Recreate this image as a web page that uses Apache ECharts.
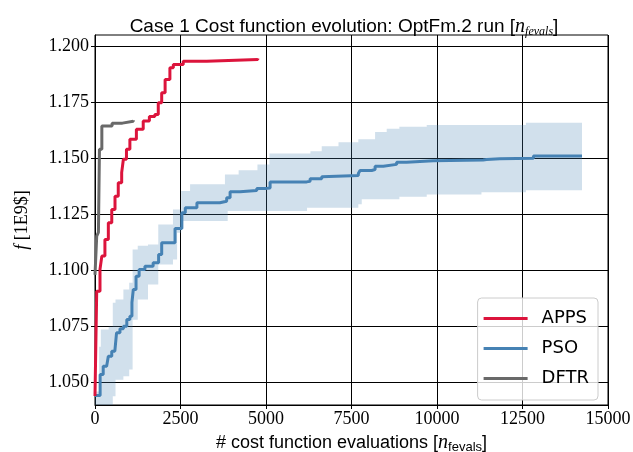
<!DOCTYPE html>
<html>
<head>
<meta charset="utf-8">
<script src="https://cdn.jsdelivr.net/npm/echarts@6/dist/echarts.min.js"></script>
<style>
  html, body { margin: 0; padding: 0; background: #fff; }
  #chart { width: 633px; height: 452px; }
</style>
</head>
<body>
<div id="chart"></div>
<script>
// Best cost found so far vs. number of cost function evaluations
const appsEvals = [0, 50, 146, 200, 290, 390, 490, 585, 680, 780, 830, 920, 1020, 1210, 1410, 1590, 1750, 1850, 1950, 2050, 2190, 2290, 2580, 3265, 4760];
const appsCost  = [1.044, 1.0907, 1.1005, 1.1064, 1.1138, 1.1213, 1.1272, 1.1331, 1.1391, 1.1436, 1.1496, 1.154, 1.1585, 1.163, 1.1667, 1.1686, 1.1696, 1.1748, 1.1792, 1.1852, 1.1904, 1.1918, 1.1933, 1.1941, 1.1945];

const psoEvals = [0, 150, 240, 340, 390, 490, 580, 630, 730, 830, 930, 1020, 1080, 1120, 1200, 1290, 1460, 1700, 1860, 1950, 2340, 2540, 2640, 2980, 3650, 3850, 3950, 4240, 4730, 5020, 5120, 6190, 6290, 6630, 6680, 7700, 7750, 8090, 8190, 8430, 8820, 9110, 9890, 11350, 11450, 11840, 12820, 14240];
const psoCost  = [1.0442, 1.0536, 1.0573, 1.058, 1.0617, 1.064, 1.0647, 1.0722, 1.074, 1.0751, 1.0781, 1.0796, 1.0857, 1.0915, 1.0974, 1.1004, 1.1019, 1.1034, 1.1071, 1.1123, 1.1187, 1.1257, 1.128, 1.1302, 1.1309, 1.1324, 1.1351, 1.1357, 1.1366, 1.1368, 1.1395, 1.1398, 1.1409, 1.1418, 1.1423, 1.1432, 1.1446, 1.145, 1.1465, 1.1473, 1.1483, 1.1489, 1.1493, 1.1495, 1.1498, 1.15, 1.151, 1.1511];

// PSO spread across runs (lower / upper envelope)
const psoBandEvals = [0, 120, 170, 400, 520, 600, 830, 1000, 1100, 1250, 1550, 1850, 2280, 2400, 2520, 2780, 3800, 3880, 4200, 4750, 5100, 6200, 6300, 6630, 7120, 7700, 7800, 8190, 8530, 8900, 9700, 11300, 12600, 14240];
const psoBandLow  = [1.036, 1.036, 1.038, 1.040, 1.0439, 1.0513, 1.0528, 1.0558, 1.078, 1.087, 1.0937, 1.1027, 1.1049, 1.1168, 1.122, 1.122, 1.122, 1.1265, 1.1265, 1.1265, 1.1265, 1.128, 1.128, 1.128, 1.128, 1.1295, 1.1317, 1.1317, 1.1317, 1.1329, 1.1339, 1.1349, 1.1358, 1.1364];
const psoBandHigh = [1.046, 1.066, 1.0737, 1.075, 1.0856, 1.087, 1.0915, 1.0945, 1.1093, 1.111, 1.1116, 1.1205, 1.1272, 1.1272, 1.1354, 1.1384, 1.1428, 1.1428, 1.1447, 1.1473, 1.1522, 1.1522, 1.1532, 1.1554, 1.1572, 1.1585, 1.1585, 1.1617, 1.1632, 1.1641, 1.1649, 1.1649, 1.1659, 1.1662];

const dftrEvals = [0, 50, 100, 130, 200, 500, 800, 1120];
const dftrCost  = [1.098, 1.1153, 1.117, 1.154, 1.1644, 1.1657, 1.1665, 1.167];

const yTicks = [1.050, 1.075, 1.100, 1.125, 1.150, 1.175, 1.200];

const zip = (xs, ys) => xs.map((x, i) => [x, ys[i]]);

const serifFont = 'Liberation Serif';
const sansFont = 'Liberation Sans';

// Step-shaped envelope polygon: upper edge left-to-right, lower edge back.
function renderBand(params, api) {
  if (params.dataIndex !== 0) return null;
  const n = psoBandEvals.length;
  const upper = [], lower = [];
  for (let i = 0; i < n; i++) {
    const x0 = psoBandEvals[i];
    const x1 = i + 1 < n ? psoBandEvals[i + 1] : psoBandEvals[i];
    upper.push(api.coord([x0, psoBandHigh[i]]), api.coord([x1, psoBandHigh[i]]));
    lower.push(api.coord([x0, psoBandLow[i]]), api.coord([x1, psoBandLow[i]]));
  }
  const points = upper.concat(lower.reverse());
  return {
    type: 'polygon',
    shape: { points },
    style: { fill: 'rgba(70,130,180,0.25)', stroke: null },
    silent: true
  };
}

const chart = echarts.init(document.getElementById('chart'), null, { renderer: 'canvas' });

const richTitle = {
  a: { fontFamily: sansFont, fontSize: 19, fontWeight: 'normal', color: '#000', lineHeight: 22 },
  n: { fontFamily: serifFont, fontStyle: 'italic', fontWeight: 'normal', fontSize: 20, color: '#000', lineHeight: 22 },
  s: { fontFamily: serifFont, fontStyle: 'italic', fontWeight: 'normal', fontSize: 12, color: '#000', lineHeight: 22, verticalAlign: 'bottom', padding: [6, 0, 0, 0] }
};

chart.setOption({
  animation: false,
  backgroundColor: '#fff',
  title: {
    text: '{a|Case 1 Cost function evolution: OptFm.2 run [}{n|n}{s|fevals}{a|]}',
    left: 339, top: 11, textAlign: 'center',
    textStyle: { fontWeight: 'normal', rich: richTitle }
  },
  grid: {
    left: 95, right: 25, top: 35, bottom: 47,
    show: true, borderColor: '#000', borderWidth: 1,
    containLabel: false, outerBoundsMode: 'none'
  },
  legend: {
    orient: 'vertical',
    right: 35, bottom: 52,
    data: ['APPS', 'PSO', 'DFTR'],
    icon: 'rect',
    itemWidth: 44, itemHeight: 3, itemGap: 9,
    padding: [10, 9, 11, 6],
    backgroundColor: 'rgba(255,255,255,0.8)',
    borderColor: '#cccccc', borderWidth: 1, borderRadius: 4,
    textStyle: { fontFamily: 'DejaVu Sans', fontSize: 18, color: '#000', lineHeight: 21, padding: [0, 0, 0, 9] }
  },
  xAxis: {
    type: 'value', min: 0, max: 15000, interval: 2500,
    name: '{a|# cost function evaluations [}{n|n}{s|fevals}{a|]}',
    nameLocation: 'middle', nameGap: 26,
    nameTextStyle: {
      rich: {
        a: { fontFamily: sansFont, fontSize: 18, color: '#000', lineHeight: 22 },
        n: { fontFamily: serifFont, fontStyle: 'italic', fontSize: 20, color: '#000', lineHeight: 22 },
        s: { fontFamily: sansFont, fontSize: 13, color: '#000', lineHeight: 22, verticalAlign: 'bottom', padding: [6, 0, 0, 0] }
      }
    },
    axisLine: { show: true, lineStyle: { color: '#000', width: 1 } },
    axisTick: { show: true, inside: false, length: 4, lineStyle: { color: '#000' } },
    axisLabel: { fontFamily: serifFont, fontSize: 18, color: '#000', margin: 5, formatter: v => String(v) },
    splitLine: { show: true, lineStyle: { color: '#000', width: 1 } }
  },
  yAxis: {
    type: 'value', min: 1.040, max: 1.205,
    name: '{i|f} [1E9$]',
    nameLocation: 'middle', nameGap: 64, nameRotate: 90,
    nameTextStyle: {
      rich: {
        i: { fontFamily: serifFont, fontStyle: 'italic', fontSize: 18, color: '#000' }
      },
      fontFamily: serifFont, fontSize: 18, color: '#000'
    },
    axisLine: { show: true, lineStyle: { color: '#000', width: 1 } },
    axisTick: { show: true, inside: false, length: 4, lineStyle: { color: '#000' }, customValues: yTicks },
    axisLabel: { fontFamily: serifFont, fontSize: 18, color: '#000', margin: 6, customValues: yTicks,
      formatter: v => v.toFixed(3) },
    splitLine: { show: true, lineStyle: { color: '#000', width: 1 } }
  },
  series: [
    {
      name: 'PSO spread', type: 'custom', renderItem: renderBand,
      data: zip(psoBandEvals, psoBandHigh), clip: true, silent: true, z: 1
    },
    {
      name: 'PSO', type: 'line', step: 'end', data: zip(psoEvals, psoCost),
      symbol: 'none', color: '#4682b4', lineStyle: { color: '#4682b4', width: 3 }, z: 3
    },
    {
      name: 'APPS', type: 'line', step: 'end', data: zip(appsEvals, appsCost),
      symbol: 'none', color: '#dc143c', lineStyle: { color: '#dc143c', width: 3 }, z: 3
    },
    {
      name: 'DFTR', type: 'line', step: 'end', data: zip(dftrEvals, dftrCost),
      symbol: 'none', color: '#696969', lineStyle: { color: '#696969', width: 3 }, z: 3
    }
  ]
});
</script>
</body>
</html>
